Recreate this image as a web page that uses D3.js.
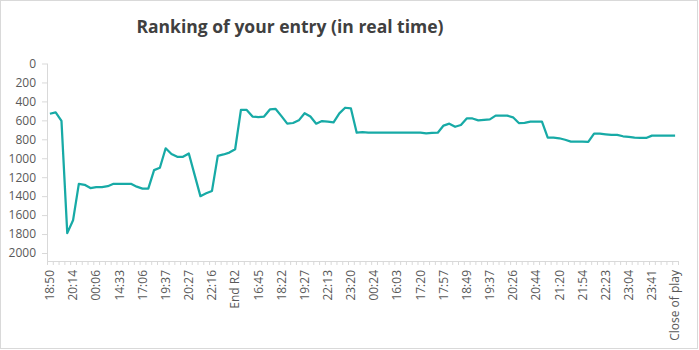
<!DOCTYPE html>
<html>
<head>
<meta charset="utf-8">
<script src="https://cdn.jsdelivr.net/npm/d3@7/dist/d3.min.js"></script>
<style>
  body { margin: 0; background: #fff; }
  text { font-family: 'Open Sans', sans-serif; }
</style>
</head>
<body>
<div class="chart"></div>
<script>
// ranking at each update, one value per category on the x axis
const ranks = [
  530, 515, 605, 1790, 1655, 1270, 1280, 1315, 1305, 1305,
  1295, 1270, 1270, 1270, 1270, 1300, 1320, 1320, 1125, 1100,
  895, 955, 985, 985, 950, 1175, 1400, 1370, 1345, 975,
  960, 940, 905, 490, 490, 560, 565, 560, 485, 480,
  555, 635, 628, 600, 525, 560, 635, 607, 614, 621,
  526, 467, 474, 730, 725, 730, 730, 730, 730, 730,
  730, 730, 730, 730, 730, 738, 733, 730, 655, 635,
  668, 649, 580, 580, 600, 595, 590, 550, 550, 550,
  568, 628, 626, 614, 614, 614, 782, 782, 789, 805,
  824, 824, 825, 828, 740, 740, 747, 754, 754, 768,
  775, 782, 786, 786, 761, 761, 761, 761, 761
];

// only every 4th category is labelled
const tickLabels = [
  '18:50', '20:14', '00:06', '14:33', '17:06', '19:37', '20:27',
  '22:16', 'End R2', '16:45', '18:22', '19:27', '22:13', '23:20',
  '00:24', '16:03', '17:20', '17:57', '18:49', '19:37', '20:26',
  '20:44', '21:20', '21:54', '22:23', '23:04', '23:41', 'Close of play'
];
const labelEvery = 4;

const yTicks = [0, 200, 400, 600, 800, 1000, 1200, 1400, 1600, 1800, 2000];

const w = 699;
const h = 350;
const left = 47;
const right = 678;
const axisY = 261;
const axisColor = '#d9d9d9';
const textColor = '#595959';

const svg = d3.select('.chart')
              .append('svg')
              .attr('width', w)
              .attr('height', h);

svg.append('rect')
   .attr('x', 0.5)
   .attr('y', 0.5)
   .attr('width', w - 2)
   .attr('height', h - 2)
   .attr('fill', '#fff')
   .attr('stroke', axisColor);

const x = d3.scaleBand()
            .domain(d3.range(ranks.length))
            .range([left, right]);

const xEdge = d3.scaleLinear()
                .domain([0, ranks.length])
                .range([left, right]);

const y = d3.scaleLinear()
            .domain([0, 2000])
            .range([63.5, 253]);

// y axis
const yAxis = d3.axisLeft(y)
                .tickValues(yTicks)
                .tickFormat(d3.format('d'))
                .tickSize(5)
                .tickSizeOuter(0)
                .tickPadding(6);

const gy = svg.append('g')
              .attr('transform', `translate(${left}, 0)`)
              .call(yAxis);
gy.select('.domain').remove();
gy.selectAll('line').attr('stroke', axisColor);
gy.selectAll('text')
  .attr('fill', textColor)
  .style('font-size', '12px');

svg.append('line')
   .attr('x1', left + 0.5)
   .attr('x2', left + 0.5)
   .attr('y1', y(0))
   .attr('y2', axisY)
   .attr('stroke', axisColor);

// x axis: tick marks between categories
const xTicks = d3.axisBottom(xEdge)
                 .tickValues(d3.range(ranks.length + 1))
                 .tickSize(4)
                 .tickSizeOuter(0)
                 .tickFormat('');

const gx = svg.append('g')
              .attr('transform', `translate(0, ${axisY})`)
              .call(xTicks);
gx.select('.domain').attr('stroke', axisColor);
gx.selectAll('line').attr('stroke', axisColor);

// x axis labels, rotated
const xLabels = d3.axisBottom(x)
                  .tickValues(x.domain().filter(i => i % labelEvery === 0))
                  .tickSize(0)
                  .tickFormat(i => tickLabels[i / labelEvery]);

const gl = svg.append('g')
              .attr('transform', `translate(0, ${axisY})`)
              .call(xLabels);
gl.select('.domain').remove();
gl.selectAll('text')
  .attr('transform', 'rotate(-90)')
  .attr('text-anchor', 'end')
  .attr('x', -9)
  .attr('y', 0)
  .attr('dy', '0.35em')
  .attr('fill', textColor)
  .style('font-size', '12px');

// the line
const line = d3.line()
               .x((d, i) => x(i) + x.bandwidth() / 2)
               .y(d => y(d));

svg.append('path')
   .datum(ranks)
   .attr('d', line)
   .attr('fill', 'none')
   .attr('stroke', '#17aaa6')
   .attr('stroke-width', 2.25)
   .attr('stroke-linejoin', 'round');

svg.append('text')
   .attr('x', 290)
   .attr('y', 33)
   .attr('text-anchor', 'middle')
   .attr('fill', '#404040')
   .style('font-size', '17.5px')
   .style('font-weight', 'bold')
   .text('Ranking of your entry (in real time)');
</script>
</body>
</html>
